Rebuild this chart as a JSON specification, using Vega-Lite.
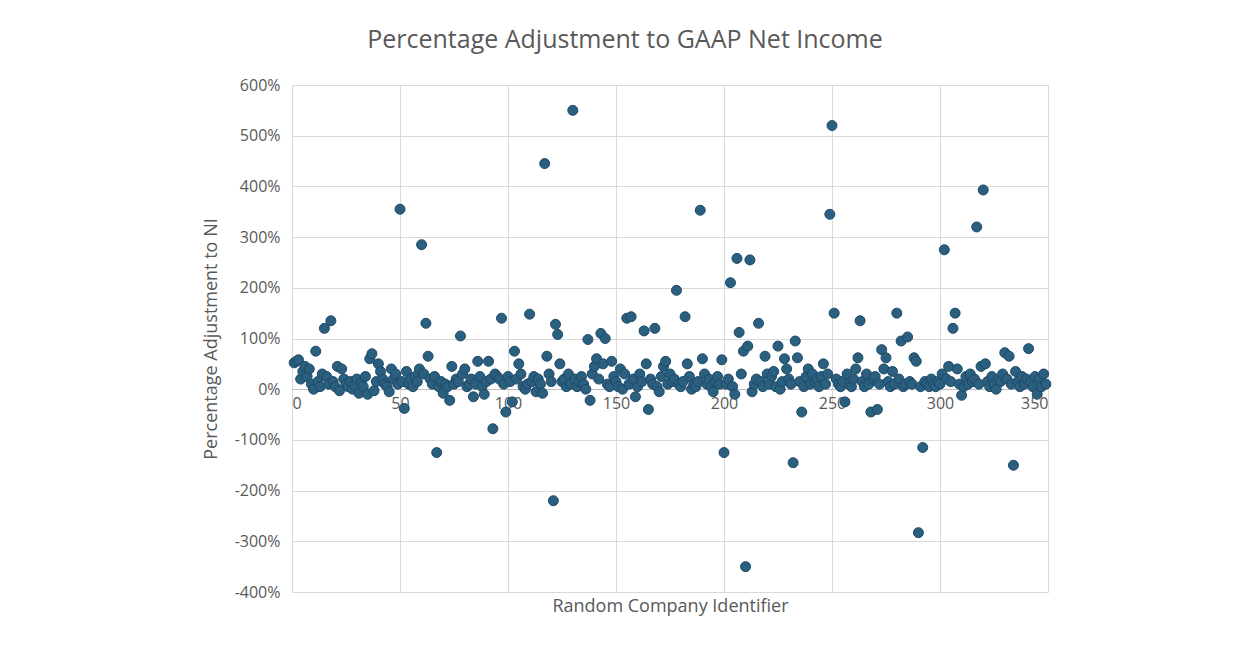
{
  "$schema": "https://vega.github.io/schema/vega-lite/v6.json",
  "autosize": {"type": "none"},
  "width": 756,
  "height": 507,
  "padding": {"left": 292, "top": 85, "right": 204, "bottom": 63},
  "background": "white",
  "title": {"text": "Percentage Adjustment to GAAP Net Income", "fontSize": 25, "font": "Open Sans", "fontWeight": "normal", "color": "#595959", "anchor": "middle", "dx": -45, "offset": 24},
  "data": {"values": [
{"x":1,"y":52},{"x":2,"y":55},{"x":3,"y":58},{"x":4,"y":20},{"x":5,"y":35},{"x":6,"y":45},{"x":7,"y":25},{"x":8,"y":40},{"x":9,"y":10},{"x":10,"y":0},
{"x":11,"y":75},{"x":12,"y":15},{"x":13,"y":5},{"x":14,"y":30},{"x":15,"y":120},{"x":16,"y":25},{"x":17,"y":10},{"x":18,"y":135},{"x":19,"y":15},{"x":20,"y":5},
{"x":21,"y":45},{"x":22,"y":-3},{"x":23,"y":40},{"x":24,"y":20},{"x":25,"y":10},{"x":26,"y":5},{"x":27,"y":15},{"x":28,"y":0},{"x":29,"y":8},{"x":30,"y":20},
{"x":31,"y":-8},{"x":32,"y":12},{"x":33,"y":5},{"x":34,"y":25},{"x":35,"y":-10},{"x":36,"y":60},{"x":37,"y":70},{"x":38,"y":-3},{"x":39,"y":15},{"x":40,"y":50},
{"x":41,"y":35},{"x":42,"y":20},{"x":43,"y":10},{"x":44,"y":5},{"x":45,"y":-5},{"x":46,"y":40},{"x":47,"y":20},{"x":48,"y":30},{"x":49,"y":10},{"x":50,"y":355},
{"x":51,"y":15},{"x":52,"y":-38},{"x":53,"y":35},{"x":54,"y":10},{"x":55,"y":20},{"x":56,"y":5},{"x":57,"y":25},{"x":58,"y":15},{"x":59,"y":40},{"x":60,"y":285},
{"x":61,"y":30},{"x":62,"y":130},{"x":63,"y":65},{"x":64,"y":20},{"x":65,"y":10},{"x":66,"y":25},{"x":67,"y":-125},{"x":68,"y":5},{"x":69,"y":15},{"x":70,"y":-8},
{"x":71,"y":10},{"x":72,"y":5},{"x":73,"y":-22},{"x":74,"y":45},{"x":75,"y":10},{"x":76,"y":20},{"x":77,"y":15},{"x":78,"y":105},{"x":79,"y":30},{"x":80,"y":40},
{"x":81,"y":5},{"x":82,"y":10},{"x":83,"y":20},{"x":84,"y":-15},{"x":85,"y":10},{"x":86,"y":55},{"x":87,"y":25},{"x":88,"y":5},{"x":89,"y":-10},{"x":90,"y":15},
{"x":91,"y":55},{"x":92,"y":20},{"x":93,"y":-78},{"x":94,"y":30},{"x":95,"y":25},{"x":96,"y":20},{"x":97,"y":140},{"x":98,"y":10},{"x":99,"y":-45},{"x":100,"y":25},
{"x":101,"y":15},{"x":102,"y":-25},{"x":103,"y":75},{"x":104,"y":20},{"x":105,"y":50},{"x":106,"y":30},{"x":107,"y":5},{"x":108,"y":0},{"x":109,"y":10},{"x":110,"y":148},
{"x":111,"y":15},{"x":112,"y":25},{"x":113,"y":-5},{"x":114,"y":20},{"x":115,"y":10},{"x":116,"y":-8},{"x":117,"y":445},{"x":118,"y":65},{"x":119,"y":30},{"x":120,"y":15},
{"x":121,"y":-220},{"x":122,"y":128},{"x":123,"y":108},{"x":124,"y":50},{"x":125,"y":15},{"x":126,"y":20},{"x":127,"y":5},{"x":128,"y":30},{"x":129,"y":10},{"x":130,"y":550},
{"x":131,"y":20},{"x":132,"y":5},{"x":133,"y":15},{"x":134,"y":25},{"x":135,"y":10},{"x":136,"y":0},{"x":137,"y":98},{"x":138,"y":-22},{"x":139,"y":30},{"x":140,"y":45},
{"x":141,"y":60},{"x":142,"y":20},{"x":143,"y":110},{"x":144,"y":50},{"x":145,"y":100},{"x":146,"y":10},{"x":147,"y":5},{"x":148,"y":55},{"x":149,"y":25},{"x":150,"y":15},
{"x":151,"y":5},{"x":152,"y":40},{"x":153,"y":0},{"x":154,"y":30},{"x":155,"y":140},{"x":156,"y":10},{"x":157,"y":143},{"x":158,"y":20},{"x":159,"y":-15},{"x":160,"y":5},
{"x":161,"y":30},{"x":162,"y":15},{"x":163,"y":115},{"x":164,"y":50},{"x":165,"y":-40},{"x":166,"y":20},{"x":167,"y":10},{"x":168,"y":120},{"x":169,"y":5},{"x":170,"y":-5},
{"x":171,"y":25},{"x":172,"y":45},{"x":173,"y":55},{"x":174,"y":10},{"x":175,"y":30},{"x":176,"y":15},{"x":177,"y":20},{"x":178,"y":195},{"x":179,"y":10},{"x":180,"y":5},
{"x":181,"y":15},{"x":182,"y":143},{"x":183,"y":50},{"x":184,"y":25},{"x":185,"y":0},{"x":186,"y":10},{"x":187,"y":5},{"x":188,"y":15},{"x":189,"y":353},{"x":190,"y":60},
{"x":191,"y":30},{"x":192,"y":10},{"x":193,"y":20},{"x":194,"y":5},{"x":195,"y":-5},{"x":196,"y":15},{"x":197,"y":25},{"x":198,"y":10},{"x":199,"y":58},{"x":200,"y":-125},
{"x":201,"y":10},{"x":202,"y":20},{"x":203,"y":210},{"x":204,"y":5},{"x":205,"y":-10},{"x":206,"y":258},{"x":207,"y":112},{"x":208,"y":30},{"x":209,"y":75},{"x":210,"y":-350},
{"x":211,"y":85},{"x":212,"y":255},{"x":213,"y":-5},{"x":214,"y":10},{"x":215,"y":20},{"x":216,"y":130},{"x":217,"y":15},{"x":218,"y":5},{"x":219,"y":65},{"x":220,"y":30},
{"x":221,"y":10},{"x":222,"y":25},{"x":223,"y":35},{"x":224,"y":5},{"x":225,"y":85},{"x":226,"y":0},{"x":227,"y":15},{"x":228,"y":60},{"x":229,"y":40},{"x":230,"y":20},
{"x":231,"y":10},{"x":232,"y":-145},{"x":233,"y":95},{"x":234,"y":62},{"x":235,"y":15},{"x":236,"y":-45},{"x":237,"y":5},{"x":238,"y":25},{"x":239,"y":40},{"x":240,"y":10},
{"x":241,"y":30},{"x":242,"y":15},{"x":243,"y":20},{"x":244,"y":5},{"x":245,"y":25},{"x":246,"y":50},{"x":247,"y":10},{"x":248,"y":30},{"x":249,"y":345},{"x":250,"y":520},
{"x":251,"y":150},{"x":252,"y":20},{"x":253,"y":10},{"x":254,"y":5},{"x":255,"y":15},{"x":256,"y":-25},{"x":257,"y":30},{"x":258,"y":10},{"x":259,"y":5},{"x":260,"y":20},
{"x":261,"y":40},{"x":262,"y":62},{"x":263,"y":135},{"x":264,"y":15},{"x":265,"y":5},{"x":266,"y":30},{"x":267,"y":10},{"x":268,"y":-45},{"x":269,"y":20},{"x":270,"y":25},
{"x":271,"y":-40},{"x":272,"y":10},{"x":273,"y":78},{"x":274,"y":40},{"x":275,"y":62},{"x":276,"y":15},{"x":277,"y":5},{"x":278,"y":35},{"x":279,"y":10},{"x":280,"y":150},
{"x":281,"y":20},{"x":282,"y":95},{"x":283,"y":5},{"x":284,"y":10},{"x":285,"y":103},{"x":286,"y":15},{"x":287,"y":10},{"x":288,"y":62},{"x":289,"y":55},{"x":290,"y":-283},
{"x":291,"y":5},{"x":292,"y":-115},{"x":293,"y":15},{"x":294,"y":10},{"x":295,"y":5},{"x":296,"y":20},{"x":297,"y":10},{"x":298,"y":5},{"x":299,"y":15},{"x":300,"y":10},
{"x":301,"y":30},{"x":302,"y":275},{"x":303,"y":20},{"x":304,"y":45},{"x":305,"y":15},{"x":306,"y":120},{"x":307,"y":150},{"x":308,"y":40},{"x":309,"y":10},{"x":310,"y":-12},
{"x":311,"y":5},{"x":312,"y":25},{"x":313,"y":10},{"x":314,"y":30},{"x":315,"y":15},{"x":316,"y":20},{"x":317,"y":320},{"x":318,"y":10},{"x":319,"y":45},{"x":320,"y":393},
{"x":321,"y":50},{"x":322,"y":15},{"x":323,"y":5},{"x":324,"y":25},{"x":325,"y":10},{"x":326,"y":0},{"x":327,"y":20},{"x":328,"y":15},{"x":329,"y":30},{"x":330,"y":72},
{"x":331,"y":20},{"x":332,"y":65},{"x":333,"y":10},{"x":334,"y":-150},{"x":335,"y":35},{"x":336,"y":15},{"x":337,"y":5},{"x":338,"y":25},{"x":339,"y":10},{"x":340,"y":20},
{"x":341,"y":80},{"x":342,"y":15},{"x":343,"y":5},{"x":344,"y":25},{"x":345,"y":-10},{"x":346,"y":20},{"x":347,"y":5},{"x":348,"y":30},{"x":349,"y":10}
  ]},
  "mark": {"type": "circle", "size": 100, "opacity": 1, "color": "#2B5F80", "stroke": "#1E4A66", "strokeWidth": 1},
  "encoding": {
    "x": {"field": "x", "type": "quantitative", "scale": {"domain": [0, 350], "nice": false},
      "axis": {"values": [0,50,100,150,200,250,300,350], "title": "Random Company Identifier", "offset": -203, "titleY": 208,
        "ticks": false, "domainColor": "#BFBFBF", "gridColor": "#D9D9D9", "labelFontSize": 16, "labelColor": "#595959", "labelFont": "Open Sans",
        "titleFontSize": 18, "titleFont": "Open Sans", "titleFontWeight": "normal", "titleColor": "#595959", "labelPadding": 6}},
    "y": {"field": "y", "type": "quantitative", "scale": {"domain": [-400, 600], "nice": false},
      "axis": {"values": [-400,-300,-200,-100,0,100,200,300,400,500,600], "labelExpr": "datum.value + '%'", "title": "Percentage Adjustment to NI",
        "domain": false, "ticks": false, "gridColor": "#D9D9D9", "labelFontSize": 16, "labelColor": "#595959", "labelFont": "Open Sans", "labelPadding": 12,
        "titleFontSize": 18, "titleFont": "Open Sans", "titleFontWeight": "normal", "titleColor": "#595959", "titlePadding": 14}}
  },
  "config": {"view": {"stroke": null}}
}
